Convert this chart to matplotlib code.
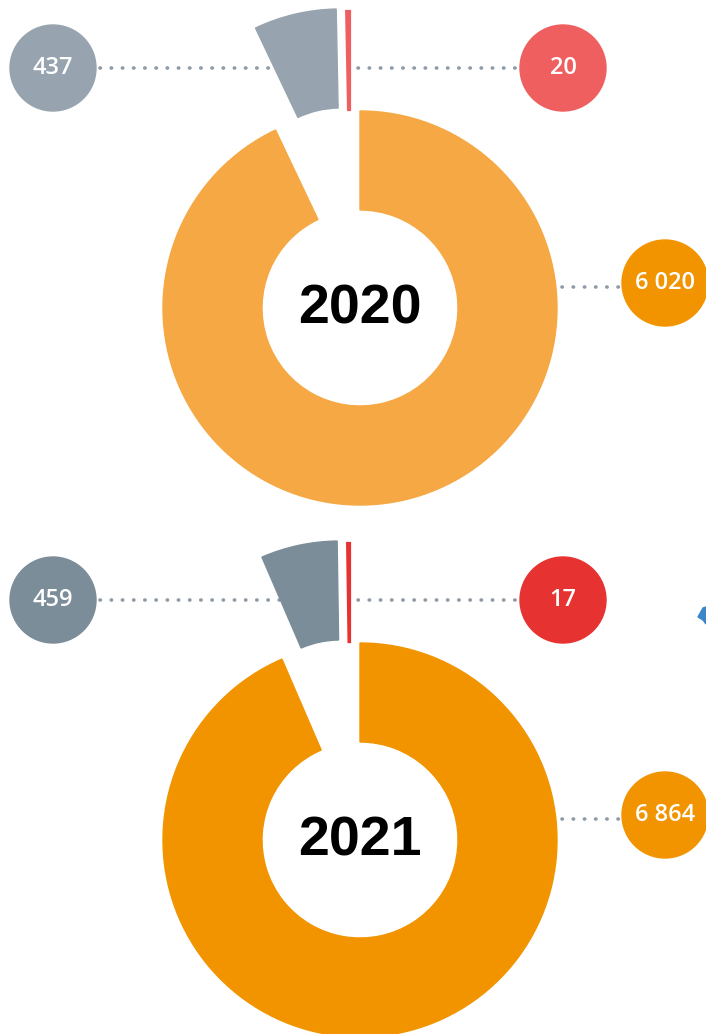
import numpy as np
import matplotlib.pyplot as plt
from matplotlib.patches import Wedge, Circle, Polygon

# ---------------- data ----------------
years = ["2020", "2021"]
orange_vals = [6020, 6864]
gray_vals = [437, 459]
red_vals = [20, 17]
orange_labels = ["6 020", "6 864"]

orange_cols = ["#f5a843", "#f29400"]
gray_cols = ["#97a4af", "#7b8d99"]
red_cols = ["#ef5f5f", "#e63332"]
badge_orange = "#f29400"
dot_col = "#8e9aa6"

W, H = 706, 1034
fig = plt.figure(figsize=(W / 100, H / 100), dpi=100)
ax = fig.add_axes([0, 0, 1, 1])
ax.set_xlim(0, W)
ax.set_ylim(0, H)
ax.set_aspect("equal")
ax.axis("off")

R_OUT, R_IN = 197, 98
centers_y = [H - 308, H - 840]
cx = 360


def dotted(x0, x1, y):
    ax.plot([x0, x1], [y, y], color=dot_col, lw=2.6,
            linestyle=(0, (0.1, 3.0)), dash_capstyle="round", zorder=1)


def badge(x, y, col, txt):
    ax.add_patch(Circle((x, y), 43, color=col, zorder=3))
    ax.text(x, y, txt, color="white", fontsize=17, fontweight="semibold",
            family=["Open Sans", "DejaVu Sans"], ha="center", va="center", zorder=4)


for i in range(2):
    cy = centers_y[i]
    total = orange_vals[i] + gray_vals[i] + red_vals[i]
    a_red = 360 * red_vals[i] / total
    a_gray = 360 * gray_vals[i] / total
    # angles clockwise from 12 o'clock: red, gray, then orange (gap at top)
    t_red = (90, 90 + a_red)
    t_gray = (90 + a_red, 90 + a_red + a_gray)
    t_orange = (90 + a_red + a_gray, 450)

    ax.add_patch(Wedge((cx, cy), R_OUT, t_orange[0], t_orange[1],
                       width=R_OUT - R_IN, color=orange_cols[i], zorder=2))
    # exploded small slices, pushed straight up
    ax.add_patch(Wedge((cx - 20, cy + 102), R_OUT, t_gray[0], t_gray[1],
                       width=R_OUT - R_IN, color=gray_cols[i], zorder=2))
    ax.add_patch(Wedge((cx - 10, cy + 100), R_OUT, t_red[0], t_red[1],
                       width=R_OUT - R_IN, color=red_cols[i], lw=1.6, zorder=2))

    ax.text(cx, cy - 1, years[i], fontsize=40, fontweight="bold",
            family=["Liberation Sans", "DejaVu Sans"], ha="center", va="center",
            color="black", zorder=4)

    ly = cy + 240
    dotted(100, 282, ly)
    dotted(358, 518, ly)
    dotted(562, 620, cy + 21)
    badge(53, ly, gray_cols[i], f"{gray_vals[i]}")
    badge(563, ly, red_cols[i], f"{red_vals[i]}")
    badge(665, cy + 25, badge_orange, orange_labels[i])

# small blue shape clipped at right edge
ax.add_patch(Polygon([[698, H - 617], [703, H - 608], [706, H - 607],
                      [706, H - 624], [703, H - 620]], color="#3a86c8", zorder=2))

fig.savefig("out.png", dpi=100)
